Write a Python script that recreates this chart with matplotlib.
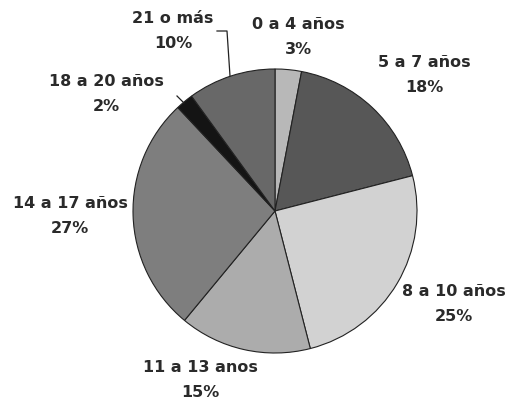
import matplotlib.pyplot as plt

labels = ['0 a 4 años', '5 a 7 años', '8 a 10 años', '11 a 13 anos',
          '14 a 17 años', '18 a 20 años', '21 o más']
values = [3, 18, 25, 15, 27, 2, 10]
colors = ['#b8b8b8', '#575757', '#d2d2d2', '#acacac', '#7e7e7e', '#141414', '#686868']
# label centres in pixel coords of the 511x402 image
label_px = [(298, 37), (424, 75), (454, 304), (200, 380), (70, 216), (106, 94), (173, 31)]

cx, cy, r = 275, 212, 142

fig = plt.figure(figsize=(5.11, 4.02), dpi=100)
ax = fig.add_axes([0, 0, 1, 1])

ax.pie(values, colors=colors, startangle=90, counterclock=False, radius=1,
       wedgeprops=dict(edgecolor='#222222', linewidth=0.8))

ax.set_aspect('auto')
ax.set_xlim(-cx / r, (511 - cx) / r)
ax.set_ylim(-(402 - cy) / r, cy / r)
ax.axis('off')

def to_data(px, py):
    return (px - cx) / r, (cy - py) / r

for lab, v, (px, py) in zip(labels, values, label_px):
    x, y = to_data(px, py)
    ax.text(x, y, f'{lab}\n{v}%', ha='center', va='center', fontsize=11.5,
            fontweight='bold', color='#2a2a2a', linespacing=1.8)

# leader lines
pts = [to_data(*p) for p in [(217, 32), (227, 32), (230, 77)]]
ax.plot([p[0] for p in pts], [p[1] for p in pts], color='#222222', lw=0.9)
pts = [to_data(*p) for p in [(177, 97), (184, 104)]]
ax.plot([p[0] for p in pts], [p[1] for p in pts], color='#222222', lw=0.9)

fig.savefig('out.png', dpi=100, facecolor='white')
